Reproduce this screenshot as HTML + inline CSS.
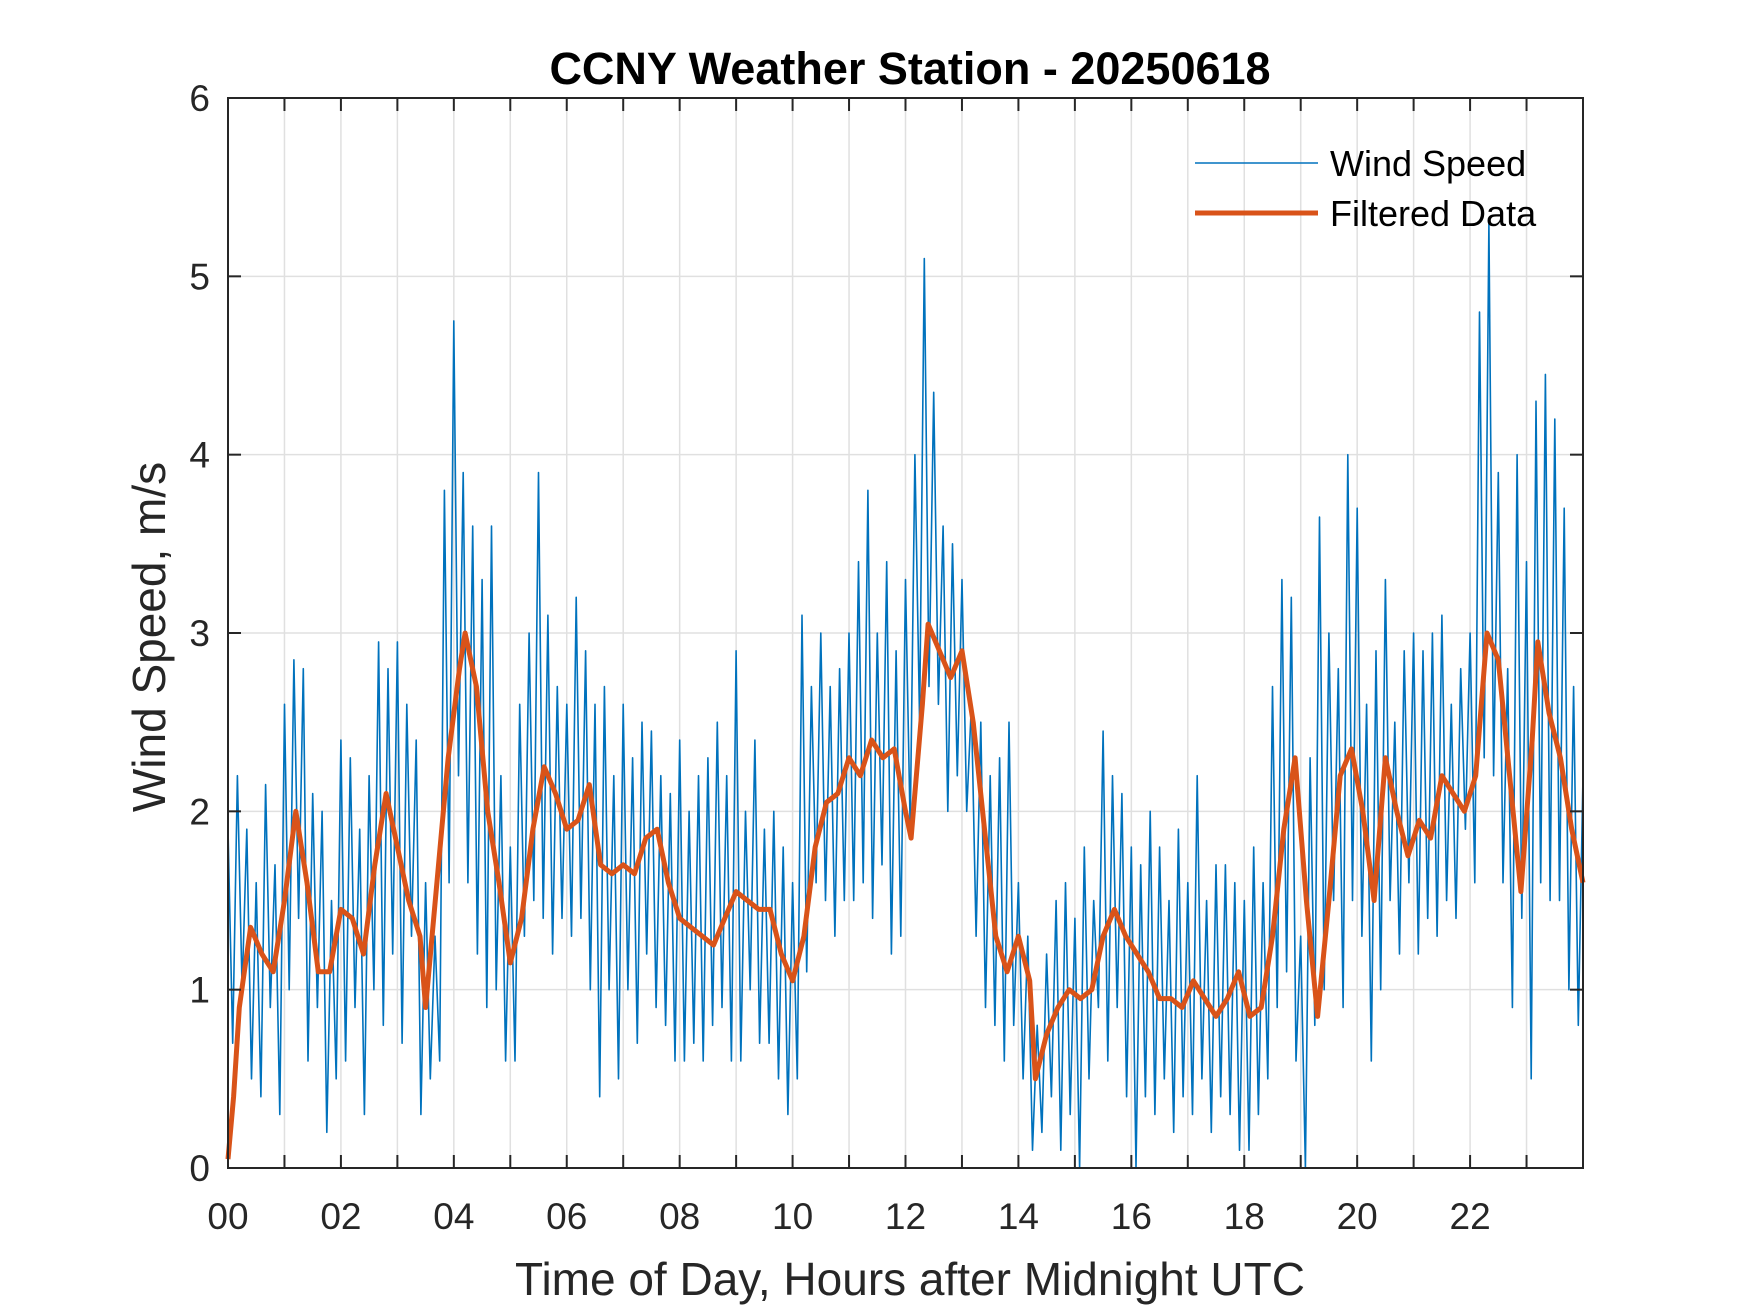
<!DOCTYPE html>
<html><head><meta charset="utf-8"><style>
body{margin:0;background:#fff;}
svg{display:block;font-family:"Liberation Sans",Arial,sans-serif;}
</style></head><body>
<svg id="chart" width="1750" height="1313" viewBox="0 0 1750 1313" xmlns="http://www.w3.org/2000/svg">
<rect width="1750" height="1313" fill="#fff"/>
<g id="grid"></g>
<g id="series"></g>
<g id="axes"></g>
<text x="910" y="84" text-anchor="middle" font-size="45" font-weight="bold" fill="#000">CCNY Weather Station - 20250618</text>
<text x="910" y="1295" text-anchor="middle" font-size="46" fill="#262626">Time of Day, Hours after Midnight UTC</text>
<text transform="translate(165,637) rotate(-90)" text-anchor="middle" font-size="46" fill="#262626">Wind Speed, m/s</text>
<g>
<line x1="1195" y1="163" x2="1318" y2="163" stroke="#0072BD" stroke-width="1.5"/>
<text x="1330" y="176" font-size="36" fill="#000">Wind Speed</text>
<line x1="1195" y1="213" x2="1318" y2="213" stroke="#D95319" stroke-width="5"/>
<text x="1330" y="226" font-size="36" fill="#000">Filtered Data</text>
</g>
</svg>
<script>
const windSpeed = [
1.9,0.7,2.2,1.0,1.9,0.5,1.6,0.4,2.15,0.9,1.7,0.3,
2.6,1.0,2.85,1.4,2.8,0.6,2.1,0.9,2.0,0.2,1.5,0.5,
2.4,0.6,2.3,0.9,1.9,0.3,2.2,1.0,2.95,0.8,2.8,1.2,
2.95,0.7,2.6,1.3,2.4,0.3,1.6,0.5,1.3,0.6,3.8,1.6,
4.75,2.2,3.9,1.6,3.6,1.2,3.3,0.9,3.6,1.0,2.2,0.6,
1.8,0.6,2.6,1.3,3.0,1.5,3.9,1.4,3.1,1.2,2.7,1.4,
2.6,1.3,3.2,1.4,2.9,1.0,2.6,0.4,2.7,1.0,2.2,0.5,
2.6,1.0,2.3,0.7,2.5,1.2,2.45,0.9,2.2,0.8,2.1,0.6,
2.4,0.6,2.0,0.7,2.2,0.6,2.3,0.8,2.5,0.9,2.2,0.6,
2.9,0.6,2.0,1.0,2.4,0.7,1.9,0.7,2.0,0.5,1.8,0.3,
1.6,0.5,3.1,1.1,2.7,1.6,3.0,1.5,2.7,1.3,2.8,1.5,
3.0,1.5,3.4,1.6,3.8,1.4,3.0,1.7,3.4,1.2,2.9,1.3,
3.3,1.9,4.0,2.5,5.1,2.7,4.35,2.6,3.6,2.0,3.5,2.2,
3.3,2.0,2.6,1.3,2.5,0.9,2.2,0.8,2.3,0.6,2.5,0.8,
1.6,0.5,1.3,0.1,0.8,0.2,1.2,0.4,1.5,0.1,1.6,0.3,
1.4,0.0,1.8,0.5,1.5,0.9,2.45,0.6,2.2,0.9,2.1,0.4,
1.8,0.0,1.7,0.4,2.0,0.3,1.8,0.5,1.5,0.2,1.9,0.4,
1.6,0.3,2.2,0.5,1.5,0.2,1.7,0.4,1.7,0.3,1.6,0.1,
1.5,0.1,1.8,0.3,1.6,0.5,2.7,0.9,3.3,1.1,3.2,0.6,
1.3,0.0,2.3,0.8,3.65,1.0,3.0,1.5,2.8,0.9,4.0,1.5,
3.7,1.3,2.6,0.6,2.9,1.0,3.3,1.5,2.5,1.2,2.9,1.6,
3.0,1.2,2.9,1.4,3.0,1.3,3.1,1.5,2.6,1.4,2.8,1.9,
3.0,1.6,4.8,2.3,5.3,2.2,3.9,1.6,2.8,0.9,4.0,1.4,
3.4,0.5,4.3,1.6,4.45,1.5,4.2,1.5,3.7,1.0,2.7,0.8,
2.2];
const filteredHours = [0,0.1,0.2,0.4,0.6,0.8,1.0,1.2,1.4,1.6,1.8,2.0,2.2,2.4,2.6,2.8,3.0,3.2,3.4,3.5,3.7,3.9,4.1,4.2,4.4,4.6,4.8,5.0,5.2,5.4,5.6,5.8,6.0,6.2,6.4,6.6,6.8,7.0,7.2,7.4,7.6,7.8,8.0,8.2,8.4,8.6,8.8,9.0,9.2,9.4,9.6,9.8,10.0,10.2,10.4,10.6,10.8,11.0,11.2,11.4,11.6,11.8,12.0,12.1,12.3,12.4,12.6,12.8,13.0,13.2,13.4,13.6,13.8,14.0,14.2,14.3,14.5,14.7,14.9,15.1,15.3,15.5,15.7,15.9,16.1,16.3,16.5,16.7,16.9,17.1,17.3,17.5,17.7,17.9,18.1,18.3,18.5,18.7,18.9,19.1,19.3,19.5,19.7,19.9,20.1,20.3,20.5,20.7,20.9,21.1,21.3,21.5,21.7,21.9,22.1,22.3,22.5,22.7,22.9,23.1,23.2,23.4,23.6,23.8,24.0];
const filteredValues = [0.05,0.4,0.9,1.35,1.2,1.1,1.5,2.0,1.6,1.1,1.1,1.45,1.4,1.2,1.7,2.1,1.8,1.5,1.3,0.9,1.6,2.3,2.8,3.0,2.7,2.0,1.6,1.15,1.4,1.9,2.25,2.1,1.9,1.95,2.15,1.7,1.65,1.7,1.65,1.85,1.9,1.6,1.4,1.35,1.3,1.25,1.4,1.55,1.5,1.45,1.45,1.2,1.05,1.3,1.8,2.05,2.1,2.3,2.2,2.4,2.3,2.35,2.0,1.85,2.6,3.05,2.9,2.75,2.9,2.5,1.9,1.3,1.1,1.3,1.05,0.5,0.75,0.9,1.0,0.95,1.0,1.3,1.45,1.3,1.2,1.1,0.95,0.95,0.9,1.05,0.95,0.85,0.95,1.1,0.85,0.9,1.3,1.9,2.3,1.5,0.85,1.5,2.2,2.35,2.0,1.5,2.3,2.0,1.75,1.95,1.85,2.2,2.1,2.0,2.2,3.0,2.85,2.2,1.55,2.4,2.95,2.55,2.3,1.9,1.6];
const yTicks = [0,1,2,3,4,5,6];
const xTickLabels = ['00','02','04','06','08','10','12','14','16','18','20','22'];

const L=228,R=1583,T=98,B=1168,NS='http://www.w3.org/2000/svg';
const xs=h=>L+(h/24)*(R-L);
const ys=v=>B-(v/6)*(B-T);
function mk(tag,attrs,parent){const e=document.createElementNS(NS,tag);for(const k in attrs)e.setAttribute(k,attrs[k]);parent.appendChild(e);return e;}
const grid=document.getElementById('grid'),axes=document.getElementById('axes'),series=document.getElementById('series');
for(let h=1;h<24;h++){
  const g=mk('line',{x1:xs(h),x2:xs(h),y1:T,y2:B,stroke:'#e0e0e0','stroke-width':1.5},grid);
  
  
  const t1=mk('line',{x1:xs(h),x2:xs(h),y1:B,y2:B-13,stroke:'#262626','stroke-width':2},axes);
  
  
  const t2=mk('line',{x1:xs(h),x2:xs(h),y1:T,y2:T+13,stroke:'#262626','stroke-width':2},axes);
  
  
}
yTicks.forEach(v=>{
  if(v>0&&v<6){
    const g=mk('line',{x1:L,x2:R,y1:ys(v),y2:ys(v),stroke:'#e0e0e0','stroke-width':1.5},grid);
    
    
    const t1=mk('line',{x1:L,x2:L+13,y1:ys(v),y2:ys(v),stroke:'#262626','stroke-width':2},axes);
    
    
    const t2=mk('line',{x1:R,x2:R-13,y1:ys(v),y2:ys(v),stroke:'#262626','stroke-width':2},axes);
    
    
  }
  const lb=mk('text',{x:L-18,y:ys(v)+13,'text-anchor':'end','font-size':37,fill:'#262626'},axes);
  lb.textContent=v;
  
  
});
xTickLabels.forEach((s,i)=>{
  const lb=mk('text',{x:xs(i*2),y:B+61,'text-anchor':'middle','font-size':37,fill:'#262626'},axes);
  lb.textContent=s;
  
  
});
const fr=mk('rect',{x:L,y:T,width:R-L,height:B-T,fill:'none',stroke:'#262626','stroke-width':2},axes);


const n=windSpeed.length;
const wp=windSpeed.map((v,i)=>xs(i*24/(n-1)).toFixed(1)+','+ys(v).toFixed(1)).join(' ');
const wl=mk('polyline',{points:wp,fill:'none',stroke:'#0072BD','stroke-width':1.6,'stroke-linejoin':'round'},series);


const fp=filteredValues.map((v,i)=>xs(filteredHours[i]).toFixed(1)+','+ys(v).toFixed(1)).join(' ');
const fl=mk('polyline',{points:fp,fill:'none',stroke:'#D95319','stroke-width':5,'stroke-linejoin':'round'},series);


</script>
</body></html>
